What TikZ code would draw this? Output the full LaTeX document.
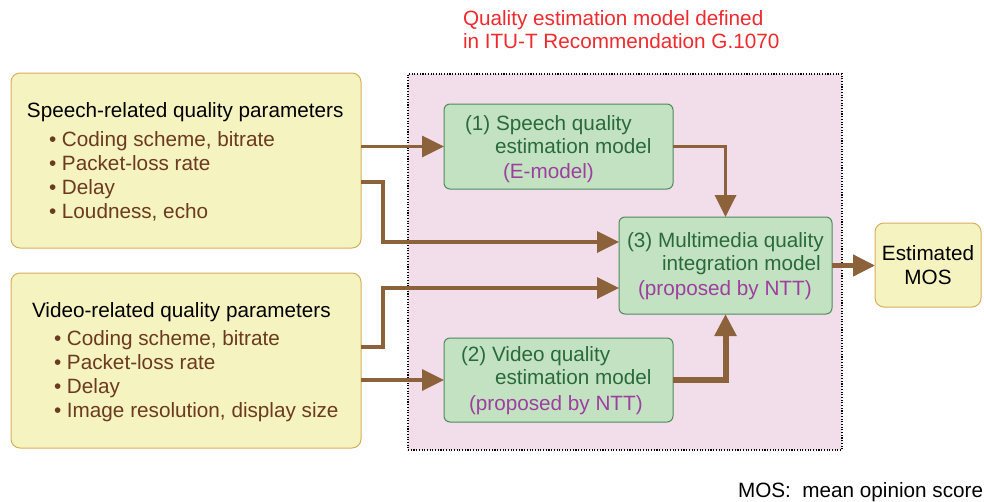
\documentclass[tikz,border=0pt]{standalone}
\usepackage{fontspec}
\setmainfont{Liberation Sans}
\usetikzlibrary{arrows.meta,calc}
\definecolor{ybfill}{HTML}{F5F3C0}
\definecolor{ybdraw}{HTML}{D9AE5C}
\definecolor{gfill}{HTML}{C2E2C2}
\definecolor{gdraw}{HTML}{4E8A5C}
\definecolor{pinkbg}{HTML}{F2DDEA}
\definecolor{brownline}{HTML}{8B6239}
\definecolor{browntext}{HTML}{6B3A1F}
\definecolor{greentext}{HTML}{2A6A3A}
\definecolor{purpletext}{HTML}{9E3FA0}
\definecolor{redtext}{HTML}{EE2A2E}
\begin{document}
\begin{tikzpicture}[x=1pt,y=-1pt,
  every node/.style={font=\fontsize{20.7}{24}\selectfont},
  ybox/.style={draw=ybdraw,fill=ybfill,line width=1pt,rounded corners=9pt,anchor=north west,inner sep=0,outer sep=0},
  gbox/.style={draw=gdraw,fill=gfill,line width=1pt,rounded corners=6pt,anchor=north west,inner sep=0,outer sep=0},
  region/.style={draw=black,fill=pinkbg,line width=1.1pt,dash pattern=on 1.1pt off 1.6pt,anchor=north west,inner sep=0,outer sep=0},
  txt/.style={anchor=base west,inner sep=0,outer sep=0},
  conn/.style={draw=brownline,line width=3.5pt,line join=miter,-{Triangle[length=22pt,width=21pt]}}
]
\useasboundingbox (0,0) rectangle (984,501);

% region
\node[region,minimum width=434pt,minimum height=376pt] (reg) at (408,74) {};
\node[txt,text=redtext] (t1) at (463,25) {Quality estimation model defined};
\node[txt,text=redtext] (t2) at (463,48) {in ITU-T Recommendation G.1070};

% left boxes
\node[ybox,minimum width=350pt,minimum height=175pt] (sp) at (11,73) {};
\node[ybox,minimum width=350pt,minimum height=175pt] (vb) at (11,273) {};

\node[txt] (spt) at (27,117) {Speech-related quality parameters};
\node[txt,text=browntext] (sp1) at (49,146) {• Coding scheme, bitrate};
\node[txt,text=browntext] (sp2) at (49,170) {• Packet-loss rate};
\node[txt,text=browntext] (sp3) at (49,194) {• Delay};
\node[txt,text=browntext] (sp4) at (49,218) {• Loudness, echo};

\node[txt] (vbt) at (32,317) {Video-related quality parameters};
\node[txt,text=browntext] (vb1) at (54,345) {• Coding scheme, bitrate};
\node[txt,text=browntext] (vb2) at (54,369) {• Packet-loss rate};
\node[txt,text=browntext] (vb3) at (54,393) {• Delay};
\node[txt,text=browntext] (vb4) at (54,417) {• Image resolution, display size};

% model boxes
\node[gbox,minimum width=229pt,minimum height=85pt] (b1) at (444,104) {};
\node[txt,text=greentext] (b1a) at (465,130) {(1) Speech quality};
\node[txt,text=greentext] (b1b) at (495,153) {estimation model};
\node[txt,text=purpletext] (b1c) at (503,178) {(E-model)};

\node[gbox,minimum width=229pt,minimum height=84pt] (b2) at (444,338) {};
\node[txt,text=greentext] (b2a) at (461,361) {(2) Video quality};
\node[txt,text=greentext] (b2b) at (495,384) {estimation model};
\node[txt,text=purpletext] (b2c) at (469,410) {(proposed by NTT)};

\node[gbox,minimum width=213pt,minimum height=97pt] (b3) at (619,217) {};
\node[txt,text=greentext] (b3a) at (627,247) {(3) Multimedia quality};
\node[txt,text=greentext] (b3b) at (662,270) {integration model};
\node[txt,text=purpletext] (b3c) at (638,295) {(proposed by NTT)};

% MOS
\node[ybox,minimum width=106pt,minimum height=84pt] (mos) at (875,223) {};
\node[align=center,inner sep=0] (most) at (mos.center) {Estimated\\MOS};

\node[txt] (note) at (738,497) {MOS:\ \ mean opinion score};

% connectors
\coordinate (sj) at (383,242);
\coordinate (vj) at (383,288);
\draw[conn] (sp.east |- b1.west) -- (b1.west);
\draw[conn] (sp.east |- 0,182) -| (sj) -- (sj -| b3.west);
\draw[conn] (vb.east |- 0,347) -| (vj) -- (vj -| b3.west);
\draw[conn] (vb.east |- b2.west) -- (b2.west);
\draw[conn] (b1.east) -| (b3.north);
\draw[conn,line width=6pt] (b2.east) -| (b3.south);
\draw[conn,line width=4.5pt] (b3.east) -- (b3.east -| mos.west);
\end{tikzpicture}
\end{document}
